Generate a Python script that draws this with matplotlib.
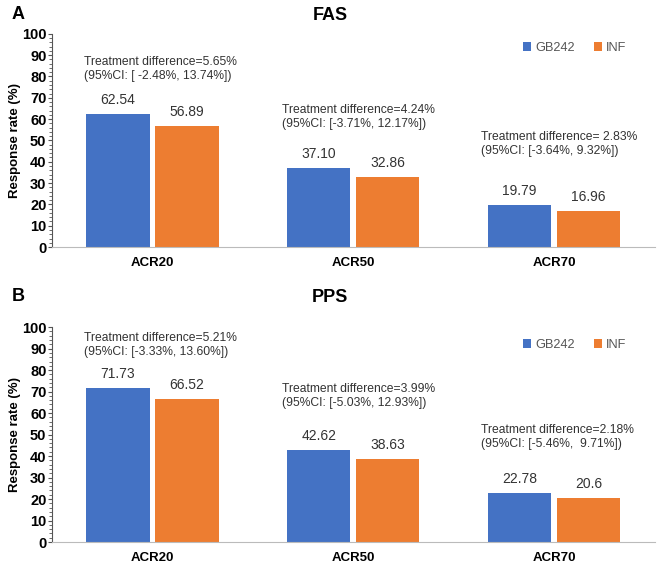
import matplotlib
matplotlib.use("Agg")
import matplotlib.pyplot as plt
import numpy as np
from matplotlib.ticker import MultipleLocator

categories = ["ACR20", "ACR50", "ACR70"]
series_names = ["GB242", "INF"]
fas_gb242 = [62.54, 37.10, 19.79]
fas_inf = [56.89, 32.86, 16.96]
fas_gb242_labels = ["62.54", "37.10", "19.79"]
fas_inf_labels = ["56.89", "32.86", "16.96"]
fas_notes = ["Treatment difference=5.65%\n(95%CI: [ -2.48%, 13.74%])",
             "Treatment difference=4.24%\n(95%CI: [-3.71%, 12.17%])",
             "Treatment difference= 2.83%\n(95%CI: [-3.64%, 9.32%])"]
pps_gb242 = [71.73, 42.62, 22.78]
pps_inf = [66.52, 38.63, 20.6]
pps_gb242_labels = ["71.73", "42.62", "22.78"]
pps_inf_labels = ["66.52", "38.63", "20.6"]
pps_notes = ["Treatment difference=5.21%\n(95%CI: [-3.33%, 13.60%])",
             "Treatment difference=3.99%\n(95%CI: [-5.03%, 12.93%])",
             "Treatment difference=2.18%\n(95%CI: [-5.46%,  9.71%])"]
yticks = [0, 10, 20, 30, 40, 50, 60, 70, 80, 90, 100]

BLUE = "#4472C4"
ORANGE = "#ED7D31"
plt.rcParams['font.family'] = ['Liberation Sans', 'DejaVu Sans']

fig = plt.figure(figsize=(6.6, 5.64), dpi=100)
axA = fig.add_axes([0.0788, 0.562, 0.913, 0.378])
axB = fig.add_axes([0.0788, 0.039, 0.913, 0.381])

note_y = {"A": [83.6, 61.0, 48.4], "B": [91.6, 68.0, 49.0]}
note_dx = [-0.34, -0.355, -0.365]
legend_y = {"A": 0.934, "B": 0.916}

def draw(ax, gb, inf, gbl, infl, notes, ny, ly):
    x = np.arange(len(categories))
    w = 0.315
    ax.bar(x - 0.172, gb, w, color=BLUE, label=series_names[0])
    ax.bar(x + 0.172, inf, w, color=ORANGE, label=series_names[1])
    for i in range(len(categories)):
        ax.annotate(gbl[i], (x[i] - 0.172, gb[i]), xytext=(0, 5), textcoords="offset points",
                    ha="center", va="bottom", fontsize=10, color="#333333")
        ax.annotate(infl[i], (x[i] + 0.172, inf[i]), xytext=(0, 5), textcoords="offset points",
                    ha="center", va="bottom", fontsize=10, color="#333333")
        ax.text(x[i] + note_dx[i], ny[i], notes[i], fontsize=8.7, color="#333333",
                ha="left", va="center", linespacing=1.25)
    ax.set_xlim(-0.5, 2.5)
    ax.set_ylim(0, 100)
    ax.set_yticks(yticks)
    ax.yaxis.set_minor_locator(MultipleLocator(2))
    ax.set_xticks(x)
    ax.set_xticklabels(categories, fontweight="bold", fontsize=9.5)
    ax.tick_params(axis="x", length=0, pad=7.5)
    ax.tick_params(axis="y", which="major", length=3, width=0.8, color="#555555", labelsize=10.5, pad=1)
    ax.tick_params(axis="y", which="minor", length=2.2, width=0.6, color="#555555")
    for lab in ax.get_yticklabels():
        lab.set_fontweight("bold")
    ax.spines["top"].set_visible(False)
    ax.spines["right"].set_visible(False)
    ax.spines["left"].set_color("#555555")
    ax.spines["bottom"].set_color("#BBBBBB")
    ax.set_ylabel("Response rate (%)", fontweight="bold", fontsize=9.5)
    ax.yaxis.set_label_coords(-0.052, 0.5)
    leg = ax.legend(loc="center right", bbox_to_anchor=(0.962, ly), ncol=2, frameon=False,
                    fontsize=9.2, handlelength=0.65, handleheight=0.65, columnspacing=1.5,
                    handletextpad=0.3, borderaxespad=0)
    for t in leg.get_texts():
        t.set_color("#555555")
    return ax

draw(axA, fas_gb242, fas_inf, fas_gb242_labels, fas_inf_labels, fas_notes, note_y["A"], legend_y["A"])
draw(axB, pps_gb242, pps_inf, pps_gb242_labels, pps_inf_labels, pps_notes, note_y["B"], legend_y["B"])

fig.text(0.5, 0.973, "FAS", fontsize=13, fontweight="bold", ha="center", va="center")
fig.text(0.5, 0.473, "PPS", fontsize=13, fontweight="bold", ha="center", va="center")
fig.text(0.027, 0.975, "A", fontsize=13, fontweight="bold", ha="center", va="center")
fig.text(0.027, 0.475, "B", fontsize=13, fontweight="bold", ha="center", va="center")

fig.savefig("out.png", dpi=100)
